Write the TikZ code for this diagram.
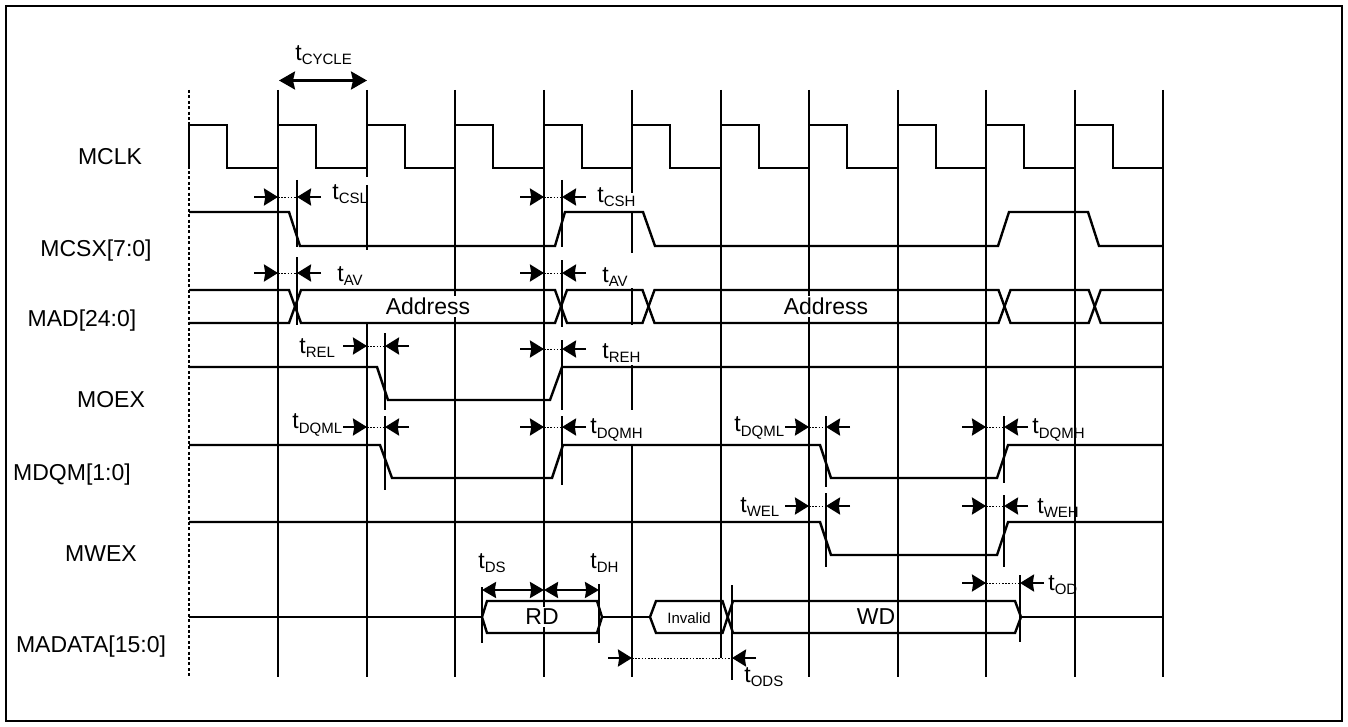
\documentclass[tikz,border=0pt]{standalone}
\usepackage{fontspec}
\setmainfont{Liberation Sans}
\usetikzlibrary{arrows.meta}
\newcommand{\tsb}[1]{t\raisebox{-0.35ex}{\fontsize{7.5pt}{8pt}\selectfont #1}}
\begin{document}
\begin{tikzpicture}[x=0.5pt,y=-0.5pt,
  sig/.style={line width=1.2pt,line join=miter},
  grid/.style={line width=1.2pt},
  mk/.style={line width=1.2pt},
  dotv/.style={line width=1.4pt,dash pattern=on 1.5pt off 1.2pt},
  dots/.style={line width=0.45pt,dash pattern=on 0.8pt off 0.8pt},
  arr/.style={line width=1.2pt,-{Stealth[length=7pt,width=8.5pt,inset=0.6pt]}},
  dbl/.style={line width=1.2pt,{Stealth[length=7pt,width=8pt,inset=0.6pt]}-{Stealth[length=7pt,width=8pt,inset=0.6pt]}},
  dblbig/.style={line width=1.3pt,{Stealth[length=8pt,width=9pt,inset=1pt]}-{Stealth[length=8pt,width=9pt,inset=1pt]}},
  lbl/.style={font=\fontsize{11.5pt}{13pt}\selectfont,inner sep=0pt,anchor=west},
  sname/.style={font=\fontsize{11.5pt}{13pt}\selectfont,inner sep=0pt},
  btext/.style={font=\fontsize{11.5pt}{13pt}\selectfont,inner sep=1pt,fill=white},
  stext/.style={font=\fontsize{7.5pt}{9pt}\selectfont,inner sep=1pt}]
\useasboundingbox (0,0) rectangle (1348,727);
\draw[line width=1.2pt] (6,6) rectangle (1342,721);

% vertical clock lines
\draw[dotv] (189,90) -- (189,677);
\foreach \xx in {278,455,544,809,898,986,1075,1163}
  \draw[grid] (\xx,90) -- (\xx,677);
\draw[grid] (367,90) -- (367,177) (367,185) -- (367,250) (367,323) -- (367,677);
\draw[grid] (632,90) -- (632,193) (632,213) -- (632,253) (632,288) -- (632,325)
            (632,365) -- (632,410) (632,445) -- (632,677);
\draw[grid] (721,90) -- (721,658);

% tCYCLE
\node[lbl] (tcyc) at (295,55) {\tsb{CYCLE}};
\draw[dblbig] (279,80.5) -- (367,80.5);

% MCLK
\node[sname] (nclk) at (110,157) {MCLK};
\draw[sig] (189,168) \foreach \a/\b/\c in {189/227/278,278/316/367,367/405/455,455/493/544,
  544/582/632,632/670/721,721/759/809,809/847/898,898/936/986,986/1024/1075,1075/1113/1163} {
  -- (\a,125) -- (\b,125) -- (\b,168) -- (\c,168) };

% MCSX
\node[sname] (ncs) at (96,251) {MCSX[7:0]};
\draw[sig] (189,212) -- (289,212) -- (300,246) -- (555,246) -- (565,212) -- (643,212)
  -- (655,246) -- (998,246) -- (1009,212) -- (1088,212) -- (1099,246) -- (1163,246);

% MAD
\node[sname] (nad) at (82,321) {MAD[24:0]};
\draw[sig] (189,290) -- (289,290) -- (295,306.5) -- (289,323) -- (189,323);
\draw[sig] (295,306.5) -- (301,290) -- (555,290) -- (561,306.5) -- (555,323) -- (301,323) -- cycle;
\draw[sig] (561,306.5) -- (567,290) -- (642.5,290) -- (648.5,306.5) -- (642.5,323) -- (567,323) -- cycle;
\draw[sig] (648.5,306.5) -- (654.5,290) -- (998.5,290) -- (1004.5,306.5) -- (998.5,323) -- (654.5,323) -- cycle;
\draw[sig] (1004.5,306.5) -- (1010.5,290) -- (1088.7,290) -- (1094.7,306.5) -- (1088.7,323) -- (1010.5,323) -- cycle;
\draw[sig] (1163,290) -- (1100.7,290) -- (1094.7,306.5) -- (1100.7,323) -- (1163,323);
\node[btext] (addr1) at (428,306.5) {Address};
\node[btext] (addr2) at (826,306.5) {Address};

% MOEX
\node[sname] (noe) at (111,400) {MOEX};
\draw[sig] (189,367) -- (377,367) -- (388,400) -- (550,400) -- (562,367) -- (1163,367);

% MDQM
\node[sname] (ndq) at (72,475) {MDQM[1:0]};
\draw[sig] (189,445) -- (380,445) -- (392,478) -- (552,478) -- (563,445) -- (820,445)
  -- (831,478) -- (997,478) -- (1008,445) -- (1163,445);

% MWEX
\node[sname] (nwe) at (101,554) {MWEX};
\draw[sig] (189,522) -- (820,522) -- (831,555) -- (997,555) -- (1008,522) -- (1163,522);

% MADATA
\node[sname] (ndata) at (91,647) {MADATA[15:0]};
\draw[sig] (189,617) -- (482,617);
\draw[sig] (482,617) -- (487,601) -- (597,601) -- (602,617) -- (597,633) -- (487,633) -- cycle;
\draw[sig] (602,617) -- (650,617);
\draw[sig] (650,617) -- (656,601) -- (722.5,601) -- (727.7,617) -- (722.5,633) -- (656,633) -- cycle;
\draw[sig] (727.7,617) -- (733,601) -- (1015,601) -- (1021,617) -- (1015,633) -- (733,633) -- cycle;
\draw[sig] (1021,617) -- (1163,617);
\node[btext] (rd) at (542,617) {RD};
\node[stext] (inv) at (689,618) {Invalid};
\node[btext] (wd) at (876,617) {WD};

% marker lines
\draw[mk] (297,180) -- (297,247);
\draw[mk] (297,257) -- (297,325);
\draw[mk] (385,333) -- (385,410);
\draw[mk] (385,416) -- (385,490);
\draw[mk] (562,180) -- (562,247);
\draw[mk] (562,260) -- (562,327);
\draw[mk] (562,340) -- (562,410);
\draw[mk] (562,416) -- (562,485);
\draw[mk] (826,416) -- (826,487);
\draw[mk] (826,493) -- (826,567);
\draw[mk] (1004,416) -- (1004,483);
\draw[mk] (1004,495) -- (1004,567);
\draw[mk] (1020,575) -- (1020,642);
\draw[mk] (732,585) -- (732,680);
\draw[mk] (482,587) -- (482,643);
\draw[mk] (599,584) -- (599,643);

% timing arrows
\newcommand{\tpair}[3]{% y, left line, right line
  \draw[arr] ({#2-24},#1) -- (#2,#1);
  \draw[arr] ({#3+24},#1) -- (#3,#1);
  \draw[dots] (#2,#1) -- (#3,#1);}
\tpair{197}{278}{297}
\tpair{273}{278}{297}
\tpair{346}{367}{385}
\tpair{427}{367}{385}
\tpair{197}{544}{562}
\tpair{273}{544}{562}
\tpair{349}{544}{562}
\tpair{427}{544}{562}
\tpair{427}{809}{826}
\tpair{506}{809}{826}
\tpair{427}{986}{1004}
\tpair{506}{986}{1004}
\tpair{583}{986}{1020}
\tpair{658}{632}{732}
\draw[dbl] (482,590) -- (544,590);
\draw[dbl] (544,590) -- (599,590);

% timing labels
\node[lbl] (lcsl) at (332,194) {\tsb{CSL}};
\node[lbl] (lcsh) at (597,197) {\tsb{CSH}};
\node[lbl] (lav1) at (337,276) {\tsb{AV}};
\node[lbl] (lav2) at (602,277) {\tsb{AV}};
\node[lbl] (lrel) at (299,348) {\tsb{REL}};
\node[lbl] (lreh) at (602,353) {\tsb{REH}};
\node[lbl] (ldqml1) at (292,425) {\tsb{DQML}};
\node[lbl] (ldqmh1) at (590,430) {\tsb{DQMH}};
\node[lbl] (ldqml2) at (734,428) {\tsb{DQML}};
\node[lbl] (ldqmh2) at (1032,430) {\tsb{DQMH}};
\node[lbl] (lwel) at (740,507) {\tsb{WEL}};
\node[lbl] (lweh) at (1037,508) {\tsb{WEH}};
\node[lbl] (lds) at (478,563) {\tsb{DS}};
\node[lbl] (ldh) at (590,563) {\tsb{DH}};
\node[lbl] (lod) at (1048,585) {\tsb{OD}};
\node[lbl] (lods) at (744,677) {\tsb{ODS}};
\end{tikzpicture}
\end{document}
